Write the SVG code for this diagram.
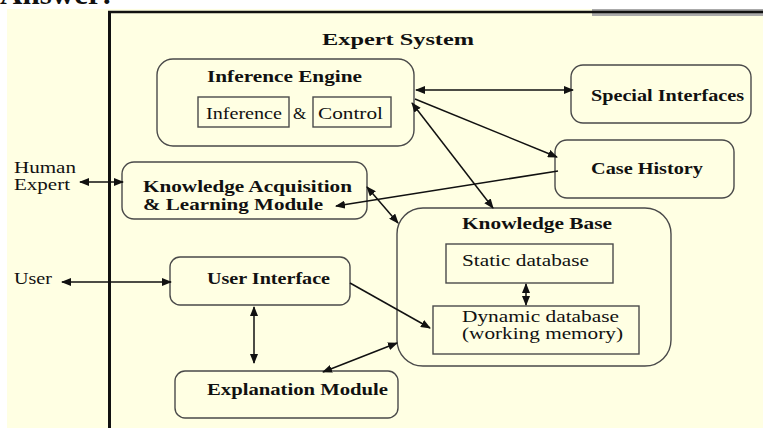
<svg xmlns="http://www.w3.org/2000/svg" width="763" height="428" viewBox="0 0 763 428">
<style>
.box{fill:none;stroke:#4a4a4a;stroke-width:1.4}
.ibox{fill:none;stroke:#4a4a4a;stroke-width:1.4}
.b{font-family:"Liberation Serif","Times New Roman",serif;font-weight:bold;font-size:17px;fill:#111}
.n{font-family:"Liberation Serif","Times New Roman",serif;font-size:17px;fill:#111}
.c{stroke:#111;stroke-width:1.5;fill:none}
</style>
<defs>
<marker id="ah" viewBox="0 0 10 8" refX="9" refY="4" markerWidth="10" markerHeight="8" markerUnits="userSpaceOnUse" orient="auto-start-reverse">
<path d="M0,0 L10,4 L0,8 z" fill="#111"/>
</marker>
</defs>
<rect x="0" y="0" width="763" height="428" fill="#ffffff"/>
<text x="0" y="4" font-family="Liberation Serif, serif" font-weight="bold" font-size="30" textLength="112" lengthAdjust="spacingAndGlyphs" fill="#111">Answer:</text>
<rect x="7" y="9" width="756" height="419" fill="#ffffe3"/>
<rect x="592" y="9" width="171" height="7" fill="#aaaaaa"/>
<line x1="108" y1="12" x2="763" y2="12" stroke="#111" stroke-width="2.5"/>
<line x1="109.5" y1="11" x2="109.5" y2="428" stroke="#111" stroke-width="3"/>
<text class="b" x="322" y="45" font-size="18" textLength="152" lengthAdjust="spacingAndGlyphs">Expert System</text>

<g id="human-expert">
<text class="n" x="14" y="173" font-size="14" textLength="62" lengthAdjust="spacingAndGlyphs">Human</text>
<text class="n" x="14" y="190" font-size="14" textLength="56" lengthAdjust="spacingAndGlyphs">Expert</text>
</g>
<g id="user">
<text class="n" x="14" y="284" font-size="16" textLength="38" lengthAdjust="spacingAndGlyphs">User</text>
</g>

<g id="inference-engine">
<rect class="box" x="157" y="59" width="257" height="87" rx="16"/>
<text class="b" x="207" y="82" textLength="155" lengthAdjust="spacingAndGlyphs">Inference Engine</text>
<rect class="ibox" x="198" y="97" width="91" height="30"/>
<text class="n" x="206" y="119" textLength="76" lengthAdjust="spacingAndGlyphs">Inference</text>
<text class="n" x="293" y="119">&amp;</text>
<rect class="ibox" x="313" y="97" width="78" height="30"/>
<text class="n" x="318" y="119" textLength="65" lengthAdjust="spacingAndGlyphs">Control</text>
</g>

<g id="special-interfaces">
<rect class="box" x="571" y="65" width="180" height="58" rx="12"/>
<text class="b" x="591" y="101" textLength="153" lengthAdjust="spacingAndGlyphs">Special Interfaces</text>
</g>

<g id="case-history">
<rect class="box" x="555" y="140" width="179" height="58" rx="12"/>
<text class="b" x="591" y="174" textLength="112" lengthAdjust="spacingAndGlyphs">Case History</text>
</g>

<g id="knowledge-acquisition">
<rect class="box" x="122" y="162" width="245" height="57" rx="12"/>
<text class="b" x="143" y="192" textLength="209" lengthAdjust="spacingAndGlyphs">Knowledge Acquisition</text>
<text class="b" x="143" y="210" textLength="180" lengthAdjust="spacingAndGlyphs">&amp; Learning Module</text>
</g>

<g id="user-interface">
<rect class="box" x="170" y="257" width="180" height="48" rx="10"/>
<text class="b" x="207" y="284" textLength="123" lengthAdjust="spacingAndGlyphs">User Interface</text>
</g>

<g id="explanation-module">
<rect class="box" x="175" y="371" width="223" height="47" rx="10"/>
<text class="b" x="207" y="395" textLength="181" lengthAdjust="spacingAndGlyphs">Explanation Module</text>
</g>

<g id="knowledge-base">
<rect class="box" x="397" y="208" width="274" height="158" rx="26"/>
<text class="b" x="462" y="229" textLength="150" lengthAdjust="spacingAndGlyphs">Knowledge Base</text>
<g id="static-database">
<rect class="ibox" x="446" y="244" width="167" height="39"/>
<text class="n" x="462" y="266" textLength="127" lengthAdjust="spacingAndGlyphs">Static database</text>
</g>
<g id="dynamic-database">
<rect class="ibox" x="433" y="306" width="206" height="48"/>
<text class="n" x="462" y="322" font-size="14.5" textLength="157" lengthAdjust="spacingAndGlyphs">Dynamic database</text>
<text class="n" x="462" y="339" font-size="14.5" textLength="161" lengthAdjust="spacingAndGlyphs">(working memory)</text>
</g>
</g>

<g id="connectors">
<line class="c" x1="416" y1="90" x2="573" y2="90" marker-start="url(#ah)" marker-end="url(#ah)"/>
<line class="c" x1="415" y1="99" x2="557" y2="157" marker-end="url(#ah)"/>
<line class="c" x1="412" y1="103" x2="493" y2="208" marker-start="url(#ah)" marker-end="url(#ah)"/>
<line class="c" x1="558" y1="171" x2="336" y2="206" marker-end="url(#ah)"/>
<line class="c" x1="367" y1="187" x2="398" y2="223" marker-start="url(#ah)" marker-end="url(#ah)"/>
<line class="c" x1="80" y1="182" x2="123" y2="182" marker-start="url(#ah)" marker-end="url(#ah)"/>
<line class="c" x1="62" y1="282" x2="171" y2="282" marker-start="url(#ah)" marker-end="url(#ah)"/>
<line class="c" x1="350" y1="283" x2="430" y2="328" marker-end="url(#ah)"/>
<line class="c" x1="254" y1="307" x2="254" y2="363" marker-start="url(#ah)" marker-end="url(#ah)"/>
<line class="c" x1="323" y1="372" x2="397" y2="343" marker-start="url(#ah)" marker-end="url(#ah)"/>
<line class="c" x1="526" y1="284" x2="526" y2="305" marker-start="url(#ah)" marker-end="url(#ah)"/>
</g>
</svg>
